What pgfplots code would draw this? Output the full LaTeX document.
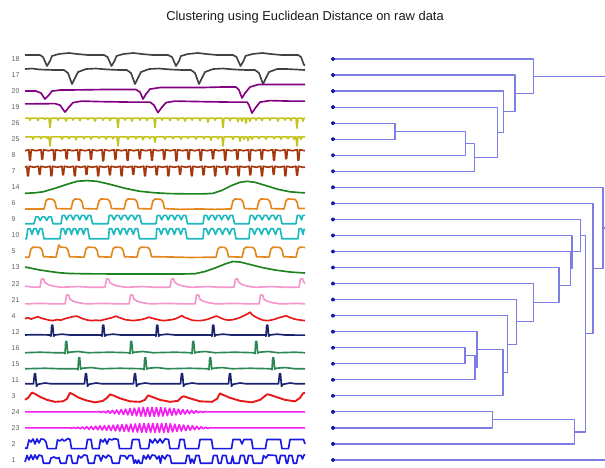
\documentclass[border=0pt]{standalone}
\usepackage{pgfplots}
\pgfplotsset{compat=1.18}
\usepackage{fontspec}
\setmainfont{Liberation Sans}
\definecolor{cgrey}{RGB}{65,65,65}
\definecolor{cpurple}{RGB}{130,0,130}
\definecolor{cyg}{RGB}{195,195,25}
\definecolor{cbrown}{RGB}{165,55,15}
\definecolor{cgreen}{RGB}{30,130,30}
\definecolor{corange}{RGB}{225,135,30}
\definecolor{ccyan}{RGB}{30,185,190}
\definecolor{cpink}{RGB}{245,150,205}
\definecolor{cred}{RGB}{230,25,25}
\definecolor{cnavy}{RGB}{25,35,110}
\definecolor{csea}{RGB}{45,135,85}
\definecolor{cmag}{RGB}{245,30,240}
\definecolor{cblue}{RGB}{25,25,225}
\definecolor{dend}{RGB}{125,125,230}
\definecolor{dotblue}{RGB}{25,25,170}
\definecolor{lab}{RGB}{95,95,95}
\newcommand{\sig}[3]{\addplot[#1] table[row sep=\\, header=false, x index=0, y expr=\thisrowno{1}+#2] {#3\\};}
\newcommand{\lbl}[2]{\node[anchor=west, inner sep=0pt, font=\fontsize{7bp}{8bp}\selectfont, text=lab] at (axis cs:11.5,#2) {#1};}
\begin{document}
\begin{tikzpicture}
\useasboundingbox (0,0) rectangle (605bp,468bp);
\begin{axis}[at={(0,0)}, anchor=south west, scale only axis, width=605bp, height=468bp,
  xmin=0, xmax=605, ymin=0, ymax=468, hide axis,
  every axis plot/.append style={line width=1.65bp, line join=round, mark=none}]
% ---- signals ----
\sig{cgrey}{409}{25 4\\40 4\\43 2\\47 -7\\50 -2\\52 3\\59 5\\69 6\\77 5\\88 4\\104 4\\107.5 2\\111.5 -7\\114.5 -2\\116.5 3\\123.5 5\\133.5 6\\141.5 5\\152.5 4\\168 4\\172 2\\176 -7\\179 -2\\181 3\\188 5\\198 6\\206 5\\217 4\\233 4\\236.5 2\\240.5 -7\\243.5 -2\\245.5 3\\252.5 5\\262.5 6\\270.5 5\\281.5 4\\298 4\\301 2\\304 -6\\305 -6}
\sig{cgrey}{392.96}{25 6\\32 6.5\\40 5.5\\55 5\\64 5\\68 2\\72 -9\\75 -3\\78 3\\86 6\\96 6.5\\108 5.5\\120 5\\127 5\\131 2\\135 -9\\138 -3\\141 3\\149 6\\159 6.5\\171 5.5\\183 5\\191 5\\195 2\\199 -9\\202 -3\\205 3\\213 6\\223 6.5\\235 5.5\\247 5\\255 5\\259 2\\263 -9\\266 -3\\269 3\\277 6\\287 6\\297 5.5\\305 5}
\sig{cpurple}{376.92}{25 0\\36 0\\41 -2\\45 -8\\48 -5\\52 0\\60 1\\80 1.2\\100 1.5\\120 1.5\\136 1.5\\140 -1\\143 -8\\146 -3\\150 2\\160 3.5\\180 3.5\\200 3.5\\220 4\\236 4\\239 1\\242 -7\\245 -2\\250 4\\258 6.5\\275 6.5\\290 6.5\\305 6.5}
\sig{cpurple}{360.88}{25 3.2\\55 3.5\\60 2\\65 -5\\69 0\\73 4.5\\82 6\\100 5.5\\130 5\\150 5\\154 2\\158 -5.5\\162 0\\166 4.5\\175 6\\200 5.5\\230 5\\247 5\\249 2\\252 -6\\256 0\\260 5\\270 6.5\\290 6\\305 6}
\sig{cyg}{344.84}{25 5\\29 5\\30 3\\31 5\\37 5\\38 2.5\\39 5\\44 5\\45 3.5\\46 5\\49 5\\50 -4.5\\51 5\\57 5\\58 3\\59 5\\65 5\\66 2\\67 5\\72 5\\73 3\\74 5\\79 5\\80 2.5\\81 5\\87 5\\88 3.5\\89 5\\94 5\\95 2\\96 5\\102 5\\103 3\\104 5\\109 5\\110 2.5\\111 5\\117 5\\118 -4.5\\119 5\\124 5\\125 3\\126 5\\131 5\\132 2\\133 5\\139 5\\140 3\\141 5\\146 5\\147 2.5\\148 5\\154 5\\155 -4\\156 5\\161 5\\162 3\\163 5\\169 5\\170 2.5\\171 5\\177 5\\178 3\\179 5\\184 5\\185 2\\186 5\\191 5\\192 3\\193 5\\199 5\\200 2.5\\201 5\\207 5\\208 1\\209 5\\214 5\\215 3\\216 5\\222 5\\223 -4.5\\224 5\\229 5\\230 2.5\\231 5\\237 5\\238 1.5\\239 5\\241 5\\242 2\\243 5\\245 5\\246 0\\247 5\\249 5\\250 2\\251 5\\255 5\\256 3\\257 5\\261 5\\262 2.5\\263 5\\269 5\\270 3\\271 5\\277 5\\278 2\\279 5\\284 5\\285 3\\286 5\\290 5\\291 2.5\\292 5\\296 5\\297 -5\\298 5\\302 5\\303 2\\304 5\\305 5}
\sig{cyg}{328.8}{25 2.3\\32 2.3\\33 0\\34 2.3\\40 2.3\\41 0.5\\42 2.3\\46 2.3\\47 1\\48 2.3\\49 2.3\\50 -6.7\\51 2.3\\61 2.3\\62 0\\63 2.3\\68 2.3\\69 0.5\\70 2.3\\75 2.3\\76 -0.5\\77 2.3\\83 2.3\\84 0.5\\85 2.3\\90 2.3\\91 0\\92 2.3\\98 2.3\\99 1\\100 2.3\\105 2.3\\106 0\\107 2.3\\112 2.3\\113 0.5\\114 2.3\\117 2.3\\118 -6.7\\119 2.3\\127 2.3\\128 0\\129 2.3\\135 2.3\\136 0.5\\137 2.3\\142 2.3\\143 -0.5\\144 2.3\\149 2.3\\150 0.5\\151 2.3\\154 2.3\\155 -3\\156 2.3\\164 2.3\\165 0\\166 2.3\\172 2.3\\173 0.5\\174 2.3\\180 2.3\\181 0\\182 2.3\\187 2.3\\188 1\\189 2.3\\195 2.3\\196 0\\197 2.3\\203 2.3\\204 0.5\\205 2.3\\210 2.3\\211 -1\\212 2.3\\217 2.3\\218 0.5\\219 2.3\\222 2.3\\223 -6.7\\224 2.3\\232 2.3\\233 0\\234 2.3\\239 2.3\\240 -2\\241 2.3\\243 2.3\\244 0\\245 2.3\\247 2.3\\248 -1.5\\249 2.3\\251 2.3\\252 0\\253 2.3\\258 2.3\\259 0.5\\260 2.3\\265 2.3\\266 0\\267 2.3\\273 2.3\\274 0.5\\275 2.3\\280 2.3\\281 0\\282 2.3\\287 2.3\\288 0.5\\289 2.3\\293 2.3\\294 0\\295 2.3\\296 2.3\\297 -6.7\\298 2.3\\300 2.3\\301 0\\302 2.3\\305 2.3}
\sig{cbrown}{312.76}{25 4.5\\28.8 5.5\\29.6 -5\\30.4 -5\\31.2 5.5\\36 4.5\\41 5.5\\41.8 -4\\42.6 -4\\43.4 5.5\\48.3 4.5\\53.2 5.5\\54 -5\\54.8 -5\\55.6 5.5\\60.5 4.5\\65.4 5.5\\66.2 -3.5\\67 -3.5\\67.8 5.5\\72.7 4.5\\77.6 5.5\\78.4 -5\\79.2 -5\\80 5.5\\84.9 4.5\\89.8 5.5\\90.6 -4\\91.4 -4\\92.2 5.5\\97.1 4.5\\102 5.5\\102.8 -5.5\\103.6 -5.5\\104.4 5.5\\109.3 4.5\\114.2 5.5\\115 -4\\115.8 -4\\116.6 5.5\\121.5 4.5\\126.4 5.5\\127.2 -5\\128 -5\\128.8 5.5\\133.7 4.5\\138.6 5.5\\139.4 -3.5\\140.2 -3.5\\141 5.5\\145.9 4.5\\150.8 5.5\\151.6 -5\\152.4 -5\\153.2 5.5\\158.1 4.5\\163 5.5\\163.8 -4\\164.6 -4\\165.4 5.5\\170.3 4.5\\175.2 5.5\\176 -5.5\\176.8 -5.5\\177.6 5.5\\182.5 4.5\\187.4 5.5\\188.2 -4\\189 -4\\189.8 5.5\\194.7 4.5\\199.6 5.5\\200.4 -5\\201.2 -5\\202 5.5\\206.9 4.5\\211.8 5.5\\212.6 -3.5\\213.4 -3.5\\214.2 5.5\\219.1 4.5\\224 5.5\\224.8 -5\\225.6 -5\\226.4 5.5\\231.3 4.5\\236.2 5.5\\237 -4\\237.8 -4\\238.6 5.5\\243.5 4.5\\248.4 5.5\\249.2 -5.5\\250 -5.5\\250.8 5.5\\255.7 4.5\\260.6 5.5\\261.4 -4\\262.2 -4\\263 5.5\\267.9 4.5\\272.8 5.5\\273.6 -5\\274.4 -5\\275.2 5.5\\280.1 4.5\\285 5.5\\285.8 -3.5\\286.6 -3.5\\287.4 5.5\\292.3 4.5\\297.2 5.5\\298 -5\\298.8 -5\\299.6 5.5\\305 4.5}
\sig{cbrown}{296.72}{25 4\\26.8 5\\27.6 -4.5\\28.4 -4.5\\29.2 5\\33.9 4\\38.5 5\\39.3 -3\\40.1 -3\\40.9 5\\45.6 4\\50.2 5\\51 -4.5\\51.8 -4.5\\52.6 5\\57.3 4\\61.9 5\\62.7 -3.5\\63.5 -3.5\\64.3 5\\69 4\\73.6 5\\74.4 -4.5\\75.2 -4.5\\76 5\\80.7 4\\85.3 5\\86.1 -3\\86.9 -3\\87.7 5\\92.4 4\\97 5\\97.8 -4.5\\98.6 -4.5\\99.4 5\\104.1 4\\108.7 5\\109.5 -3.5\\110.3 -3.5\\111.1 5\\115.8 4\\120.4 5\\121.2 -4.5\\122 -4.5\\122.8 5\\127.5 4\\132.1 5\\132.9 -3\\133.7 -3\\134.5 5\\139.2 4\\143.8 5\\144.6 -4.5\\145.4 -4.5\\146.2 5\\150.9 4\\155.5 5\\156.3 -3.5\\157.1 -3.5\\157.9 5\\162.6 4\\167.2 5\\168 -4.5\\168.8 -4.5\\169.6 5\\174.3 4\\178.9 5\\179.7 -3\\180.5 -3\\181.3 5\\186 4\\190.6 5\\191.4 -4.5\\192.2 -4.5\\193 5\\197.7 4\\202.3 5\\203.1 -3.5\\203.9 -3.5\\204.7 5\\209.4 4\\214 5\\214.8 -4.5\\215.6 -4.5\\216.4 5\\221.1 4\\225.7 5\\226.5 -3\\227.3 -3\\228.1 5\\232.8 4\\237.4 5\\238.2 -4.5\\239 -4.5\\239.8 5\\244.5 4\\249.1 5\\249.9 -3.5\\250.7 -3.5\\251.5 5\\256.2 4\\260.8 5\\261.6 -4.5\\262.4 -4.5\\263.2 5\\267.9 4\\272.5 5\\273.3 -3\\274.1 -3\\274.9 5\\279.6 4\\284.2 5\\285 -4.5\\285.8 -4.5\\286.6 5\\291.3 4\\295.9 5\\296.7 -4\\297.5 -4\\298.3 5\\303 4\\305 4}
\sig{cgreen}{280.68}{25 -6\\35 -5.5\\43 -4.5\\55 -1\\67 3\\77 6\\87 6.7\\97 6\\110 3\\125 -1\\140 -4\\155 -5.5\\170 -6.3\\190 -6.6\\205 -6.5\\213 -6\\222 -3\\232 2\\240 5\\247 6\\255 5\\265 2\\278 -2\\290 -4.5\\300 -5.3\\305 -5.5}
\sig{corange}{264.64}{25 -5.6\\44 -5.6\\46 2.5\\48 4.4\\53 4\\55 1.5\\56.5 -5.2\\71 -5.6\\73 2.5\\75 4.4\\80 4\\82 1.5\\83.5 -5.2\\97 -5.6\\99 2.5\\101 4.4\\108 4\\110 1.5\\111.5 -5.2\\124 -5.6\\126 2.5\\128 4.4\\135 4\\137 1.5\\138.5 -5.2\\151 -5.6\\153 2.5\\155 4.4\\161 4\\163 1.5\\164.5 -5.2\\180 -6\\200 -5.6\\215 -6\\231 -5.6\\233 2.5\\235 4.4\\241 4\\243 1.5\\244.5 -5.2\\257 -5.6\\259 2.5\\261 4.4\\268 4\\270 1.5\\271.5 -5.2\\284 -5.6\\286 2.5\\288 4.4\\295 4\\297 1.5\\298.5 -5.2\\305 -5}
\sig{ccyan}{248.6}{25 -4.3\\34 -4.3\\35.8 2.5\\38.2 2.5\\40.2 -1\\42.3 2.5\\44.7 2.5\\46.7 -1\\48.8 2.5\\51.2 2.5\\53 -4.3\\61 -4.3\\62.3 4\\64.7 4\\66.7 -0.5\\68.8 4\\71.2 4\\73.2 -0.5\\75.3 4\\77.7 4\\79.7 -0.5\\81.8 4\\84.2 4\\86.2 -0.5\\88.3 4\\90.7 4\\92.5 -4.3\\108 -4.3\\109.3 4\\111.7 4\\114 -0.5\\116.3 4\\118.7 4\\121 -0.5\\123.3 4\\125.7 4\\128 -0.5\\130.3 4\\132.7 4\\135 -0.5\\137.3 4\\139.7 4\\141.5 -4.3\\156 -4.3\\157.3 4\\159.7 4\\161.7 -0.5\\163.8 4\\166.2 4\\168.2 -0.5\\170.3 4\\172.7 4\\174.7 -0.5\\176.8 4\\179.2 4\\181.2 -0.5\\183.3 4\\185.7 4\\187.5 -4.3\\203 -4.3\\204.3 4\\206.7 4\\208.7 -0.5\\210.8 4\\213.2 4\\215.2 -0.5\\217.3 4\\219.7 4\\221.7 -0.5\\223.8 4\\226.2 4\\228.2 -0.5\\230.3 4\\232.7 4\\234.5 -4.3\\249 -4.3\\250.3 4\\252.7 4\\255 -0.5\\257.3 4\\259.7 4\\262 -0.5\\264.3 4\\266.7 4\\269 -0.5\\271.3 4\\273.7 4\\275.8 -0.5\\277.8 4\\280.2 4\\282 -4.3\\296 -4.3\\297.3 4\\299.7 4\\301.5 -0.5\\302.8 4\\305 4}
\sig{ccyan}{232.56}{25 -3.3\\26.5 -3.3\\27.8 6.7\\30.2 6.7\\32 1\\33.8 6.7\\36.2 6.7\\38 1\\39.8 6.7\\42.2 6.7\\44 -3.3\\60 -3.3\\61.3 6.7\\63.7 6.7\\65.5 1\\67.3 6.7\\69.7 6.7\\71.5 1\\73.3 6.7\\75.7 6.7\\77.5 1\\79.3 6.7\\81.7 6.7\\83.5 1\\85.3 6.7\\87.7 6.7\\89.5 -3.3\\108.5 -3.3\\109.3 6.7\\111.7 6.7\\113.8 1\\115.8 6.7\\118.2 6.7\\120.3 1\\122.3 6.7\\124.7 6.7\\126.8 1\\128.8 6.7\\131.2 6.7\\133.3 1\\135.3 6.7\\137.7 6.7\\139.5 -3.3\\156 -3.3\\156.8 6.7\\159.2 6.7\\161.3 1\\163.3 6.7\\165.7 6.7\\167.8 1\\169.8 6.7\\172.2 6.7\\174.3 1\\176.3 6.7\\178.7 6.7\\180.8 1\\182.8 6.7\\185.2 6.7\\187 -3.3\\203 -3.3\\203.8 6.7\\206.2 6.7\\208.5 1\\210.8 6.7\\213.2 6.7\\215.5 1\\217.8 6.7\\220.2 6.7\\222.5 1\\224.8 6.7\\227.2 6.7\\229.5 1\\231.8 6.7\\234.2 6.7\\236 -3.3\\249 -3.3\\249.8 6.7\\252.2 6.7\\254.5 1\\256.8 6.7\\259.2 6.7\\261.5 1\\263.8 6.7\\266.2 6.7\\268.5 1\\270.8 6.7\\273.2 6.7\\275.5 1\\277.8 6.7\\280.2 6.7\\282 -3.3\\298 -3.3\\299 6.7\\301.5 6.7\\303 1\\304 6\\305 6}
\sig{corange}{216.52}{25 -5.7\\29 -5.7\\31 2.5\\33 4.3\\40 4\\42 1.5\\43.5 -5.2\\56 -5.7\\58 3\\59 6.5\\60.5 4.3\\66 4\\68 1.5\\69.5 -5.2\\84 -5.7\\86 2.5\\88 4.3\\95 4\\97 1.5\\98.5 -5.2\\111 -5.7\\113 2.5\\115 4.3\\121 4\\123 1.5\\124.5 -5.2\\137 -5.7\\139 2.5\\141 4.3\\148 4\\150 1.5\\151.5 -5.2\\170 -5.5\\190 -6\\216 -5.7\\218 2.5\\220 4.3\\225 4\\227 1.5\\228.5 -5.2\\242 -5.7\\244 2.5\\246 4.3\\253 4\\255 1.5\\256.5 -5.2\\269 -5.7\\271 2.5\\273 4.3\\280 4\\282 1.5\\283.5 -5.2\\296 -5.7\\298 2.5\\300 4.3\\305 4}
\sig{cgreen}{200.48}{25 0.5\\30 -0.5\\40 -2.5\\50 -4\\60 -5.3\\70 -6\\90 -6.3\\120 -6.5\\150 -6.5\\180 -6.5\\195 -6.2\\205 -4\\215 -0.5\\225 3.5\\233 6\\240 5.5\\250 3\\262 0\\275 -2.5\\290 -4.5\\305 -5.5}
\sig{cpink}{184.44}{25 -2.5\\32 -3.5\\40 -3.7\\41.5 4.5\\43.5 4.7\\45 1\\48 -1\\53 -2.5\\61 -3.7\\78 -3\\90 -3.7\\105 -3.7\\106.5 4.5\\108.5 4.7\\110 1\\113 -1\\118 -2.5\\126 -3.7\\143 -3\\155 -3.7\\170 -3.7\\171.5 4.5\\173.5 4.7\\175 1\\178 -1\\183 -2.5\\191 -3.7\\208 -3\\220 -3.7\\234 -3.7\\235.5 4.5\\237.5 4.7\\239 1\\242 -1\\247 -2.5\\255 -3.7\\272 -3\\285 -3.7\\299 -3.7\\300.5 4.5\\302.5 4.7\\304 1\\305 0}
\sig{cpink}{168.4}{25 -4.3\\40 -3.8\\55 -4.3\\65 -4.3\\66.5 4.5\\68.5 4.7\\70 0.5\\73 -1.5\\78 -3\\86 -4.3\\103 -3.8\\120 -4.3\\129 -4.3\\130.5 4.5\\132.5 4.7\\134 0.5\\137 -1.5\\142 -3\\150 -4.3\\167 -3.8\\185 -4.3\\195 -4.3\\196.5 4.5\\198.5 4.7\\200 0.5\\203 -1.5\\208 -3\\216 -4.3\\233 -3.8\\250 -4.3\\259 -4.3\\260.5 4.5\\262.5 4.7\\264 0.5\\267 -1.5\\272 -3\\280 -4.3\\297 -3.8\\305 -4.3}
\sig{cred}{152.36}{25 -3\\28 -2\\31 -3.5\\35 -2\\38 -1\\41 -2.5\\45 -3.5\\49 -4.5\\53 -5\\57 -4\\61 -4.5\\65 -3\\69 -2\\73 -1\\77 -0.5\\80 -2\\84 -3.5\\88 -4.5\\92 -5\\96 -4.5\\100 -5\\104 -4\\108 -3\\112 -2\\116 -0.5\\118 -1.5\\121 -2.5\\125 -4\\129 -4.5\\133 -5\\137 -4.5\\141 -4\\145 -3\\149 -1.5\\152 -2.5\\156 -3.5\\160 -4.5\\164 -5\\168 -4.5\\172 -4\\176 -3\\180 -1\\182 0\\184 -1.5\\188 -3\\192 -4.5\\196 -5\\200 -5\\204 -4.5\\208 -3.5\\212 -2\\216 -0.5\\218 -1\\221 -2.5\\225 -4\\229 -4.5\\233 -4\\237 -3\\241 -1.5\\245 0.5\\248 2\\250 3.5\\252 1\\255 -1\\259 -3\\263 -4.5\\267 -5\\271 -4.5\\275 -3.5\\279 -2\\283 -1\\286 0\\289 -1.5\\293 -3\\297 -4\\301 -4.5\\305 -5}
\sig{cnavy}{136.32}{25 -3.3\\35 -3\\50 -3.3\\51 -4.5\\51.7 6.5\\52.7 6.5\\53.7 -4.5\\55 -3.3\\62 -2.5\\70 -3.3\\101 -3.3\\102 -4.5\\102.7 6.5\\103.7 6.5\\104.7 -4.5\\106 -3.3\\113 -2.5\\121 -3.3\\155 -3.3\\156 -4.5\\156.7 6.5\\157.7 6.5\\158.7 -4.5\\160 -3.3\\167 -2.5\\175 -3.3\\211 -3.3\\212 -4.5\\212.7 6.5\\213.7 6.5\\214.7 -4.5\\216 -3.3\\223 -2.5\\231 -3.3\\265 -3.3\\266 -4.5\\266.7 6.5\\267.7 6.5\\268.7 -4.5\\270 -3.3\\277 -2.5\\285 -3.3\\305 -3.5}
\sig{csea}{120.28}{25 -5\\40 -4.5\\55 -5\\64 -5\\65 -6\\65.7 6.3\\66.7 6.3\\67.7 -5.5\\69 -4.5\\78 -3.8\\88 -5\\110 -4.5\\129 -5\\130 -6\\130.7 6.3\\131.7 6.3\\132.7 -5.5\\134 -4.5\\143 -3.8\\153 -5\\175 -4.5\\191 -5\\192 -6\\192.7 6.3\\193.7 6.3\\194.7 -5.5\\196 -4.5\\205 -3.8\\215 -5\\235 -4.5\\254 -5\\255 -6\\255.7 6.3\\256.7 6.3\\257.7 -5.5\\259 -4.5\\268 -3.8\\278 -5\\295 -4.5\\305 -5}
\sig{csea}{104.24}{25 -5\\45 -4.5\\60 -5\\77 -5\\78 -6\\78.7 6\\79.7 6\\80.7 -5.5\\82 -4.5\\91 -3.8\\101 -5\\120 -4.5\\143 -5\\144 -6\\144.7 6\\145.7 6\\146.7 -5.5\\148 -4.5\\157 -3.8\\167 -5\\190 -4.5\\208 -5\\209 -6\\209.7 6\\210.7 6\\211.7 -5.5\\213 -4.5\\222 -3.8\\232 -5\\250 -4.5\\271 -5\\272 -6\\272.7 6\\273.7 6\\274.7 -5.5\\276 -4.5\\285 -3.8\\295 -5\\305 -5}
\sig{cnavy}{88.2}{25 -4\\33.5 -4\\34.5 6\\35.5 6\\36.5 -6.5\\38 -4.5\\45 -3.2\\51 -4\\84.5 -4\\85.5 6\\86.5 6\\87.5 -6.5\\89 -4.5\\96 -3.2\\102 -4\\133.5 -4\\134.5 6\\135.5 6\\136.5 -6.5\\138 -4.5\\145 -3.2\\151 -4\\180.5 -4\\181.5 6\\182.5 6\\183.5 -6.5\\185 -4.5\\192 -3.2\\198 -4\\228.5 -4\\229.5 6\\230.5 6\\231.5 -6.5\\233 -4.5\\240 -3.2\\246 -4\\278.5 -4\\279.5 6\\280.5 6\\281.5 -6.5\\283 -4.5\\290 -3.2\\296 -4\\305 -4}
\sig{cred, line width=1.9bp}{72.16}{25 -4\\28 -2\\32 3.3\\35 2\\40 -1\\47 -4\\55 -6\\63 -5.5\\67 -3\\70 3\\73 1.5\\78 -1.5\\86 -4.5\\95 -6.5\\103 -5\\107 -2\\110 1.5\\113 0.5\\120 -2.5\\130 -5.5\\140 -6\\145 -4\\148 0.5\\152 -1\\160 -4\\170 -6\\178 -5\\182 -1\\184 -0.5\\190 -2.5\\200 -5.5\\212 -6\\217 -3\\220 2.5\\223 1\\230 -2\\240 -5\\252 -6.5\\260 -4\\264 -1\\267 1.5\\270 1\\276 -1\\285 -4\\295 -5.5\\300 -2\\303 2.5\\305 3}
\sig{cmag}{56.12}{25 0\\97 0\\99.2 0.2\\101.4 -0.4\\103.6 0.6\\105.8 -0.9\\108 1.1\\110.2 -1.3\\112.4 1.5\\114.6 -1.7\\116.8 1.9\\119 -2.2\\121.2 2.4\\123.4 -2.6\\125.6 2.8\\127.8 -3\\130 3.2\\132.2 -3.4\\134.4 3.7\\136.6 -3.9\\138.8 4.1\\141 -4.3\\143.2 4.5\\145.4 -4.5\\147.6 4.5\\149.8 -4.5\\152 4.5\\154.2 -4.5\\156.4 4.5\\158.6 -4.5\\160.8 4.4\\163 -4.2\\165.2 4\\167.4 -3.8\\169.6 3.6\\171.8 -3.4\\174 3.2\\176.2 -3\\178.4 2.7\\180.6 -2.5\\182.8 2.3\\185 -2.1\\187.2 1.9\\189.4 -1.7\\191.6 1.5\\193.8 -1.3\\196 1.1\\198.2 -0.8\\200.4 0.6\\202.6 -0.4\\204.8 0.2\\207 0\\305 0}
\sig{cmag}{40.08}{25 0\\67 0\\69.2 0.1\\71.4 -0.3\\73.6 0.4\\75.8 -0.5\\78 0.7\\80.2 -0.8\\82.4 0.9\\84.6 -1\\86.8 1.2\\89 -1.3\\91.2 1.4\\93.4 -1.6\\95.6 1.7\\97.8 -1.8\\100 2\\102.2 -2.1\\104.4 2.2\\106.6 -2.3\\108.8 2.5\\111 -2.6\\113.2 2.7\\115.4 -2.9\\117.6 3\\119.8 -3.1\\122 3.3\\124.2 -3.4\\126.4 3.5\\128.6 -3.6\\130.8 3.8\\133 -3.9\\135.2 4\\137.4 -4.2\\139.6 4.3\\141.8 -4.4\\144 4.5\\146.2 -4.5\\148.4 4.5\\150.6 -4.5\\152.8 4.5\\155 -4.5\\157.2 4.5\\159.4 -4.5\\161.6 4.5\\163.8 -4.5\\166 4.5\\168.2 -4.4\\170.4 4.2\\172.6 -4\\174.8 3.7\\177 -3.5\\179.2 3.3\\181.4 -3.1\\183.6 2.9\\185.8 -2.7\\188 2.4\\190.2 -2.2\\192.4 2\\194.6 -1.8\\196.8 1.6\\199 -1.4\\201.2 1.2\\203.4 -0.9\\205.6 0.7\\207.8 -0.5\\210 0.3\\212.2 0\\305 0}
\sig{cblue}{24.04}{25 -4\\27 -4.5\\29 4\\31 2\\33 5\\35 0\\37 5\\39 1\\41 5\\44 4.5\\46 2\\47.5 -4.7\\56 -4.7\\57.5 4\\60 3\\62 5\\64 3\\66 4\\68 5.5\\70 4.5\\71.5 -4.7\\86 -4.7\\87.5 4.5\\91 4.5\\92.5 -4.7\\99 -4.7\\100.5 4.5\\103 2\\105 5\\107 0\\109 5\\112 4\\114 5.3\\118 4.5\\119.5 -4.7\\131 -4.7\\132.5 4.5\\139 4.5\\140.5 -4.7\\148.5 -4.7\\150 4.5\\152.5 1\\155 5\\157.5 1\\160 5\\162.5 1\\165 5\\168.5 4.5\\170 -4.7\\178.5 -4.7\\180 4.5\\184 4.5\\185.5 -4.7\\198.5 -4.7\\200 4.5\\211.5 4.5\\213 -4.7\\231.5 -4.7\\233 4.5\\240 4.5\\242 0\\244 4.5\\251.5 4.5\\253 -4.7\\265.5 -4.7\\267 4.5\\280.5 4.5\\282 -4.7\\288.5 -4.7\\290 4.5\\303.5 4.5\\305 0}
\sig{cblue}{8}{25 -2\\27 4.5\\29 0\\31 5\\33 0.5\\35 5\\37 1\\39 5\\42 4\\43.5 -3.3\\49.5 -3.3\\51 2\\54 3\\57 1.5\\59 2.5\\60.5 -3.3\\66 -3.3\\67.5 4.5\\71 4.5\\72.5 -3.3\\77 -3.3\\78.5 4.5\\81 2\\84 5\\87 4.5\\88.5 -3.3\\94 -3.3\\95.5 4.5\\99 4.5\\101 -1\\103 4.5\\106 2\\108 5\\111 3\\112.5 -3.3\\119 -3.3\\120.5 4.5\\125 4\\127 1\\129 4.5\\132.5 4.5\\134 -3.3\\135.5 0\\137 -3.3\\138.5 0\\140 -3.3\\142 -3.3\\143.5 4.5\\146 1\\148 5\\150 1\\152 5\\155 4.5\\157 1\\159 4\\160.5 -3.3\\162 4.5\\165 1\\167 5\\170 4\\171.5 -3.3\\185.5 -3.3\\187 4.5\\189 4.5\\190.5 -3.3\\192 1\\194 -3.3\\196 4.5\\199 4.5\\200.5 -3.3\\212 -3.3\\213.5 4.5\\217 4.5\\218.5 -3.3\\221 -3.3\\222.5 4.5\\226 4.5\\227.5 -3.3\\231 -3.3\\232.5 4\\234 -3.3\\239 -3.3\\240.5 4.5\\244 4.5\\245.5 -3.3\\247 -3.3\\248.5 4.5\\252 4.5\\253.5 -3.3\\262 -3.3\\263.5 4.5\\266 2\\268 5\\276 4.5\\277.5 -3.3\\279 -3.3\\280.5 4.5\\285 4.5\\286.5 -3.3\\287.5 -3.3\\289 4.5\\292 4.5\\293.5 -3.3\\296.5 -3.3\\298 4.5\\301 4.5\\302.5 1\\304 5\\305 5}
% ---- dendrogram ----
\pgfplotsset{dd/.style={dend, line width=1.2bp}}
\addplot[dd] coordinates {(333,344.84)(395,344.84)(395,328.8)(333,328.8)};
\addplot[dd] coordinates {(395,336.82)(465.7,336.82)(465.7,312.76)(333,312.76)};
\addplot[dd] coordinates {(465.7,324.79)(474.3,324.79)(474.3,296.72)(333,296.72)};
\addplot[dd] coordinates {(333,360.88)(497.3,360.88)(497.3,310.76)(474.3,310.76)};
\addplot[dd] coordinates {(333,376.92)(503.3,376.92)(503.3,335.82)(497.3,335.82)};
\addplot[dd] coordinates {(333,392.96)(515,392.96)(515,356.37)(503.3,356.37)};
\addplot[dd] coordinates {(333,409)(533.3,409)(533.3,374.67)(515,374.67)};
\addplot[dd] coordinates {(533.3,391.83)(612,391.83)};
\addplot[dd] coordinates {(333,120.28)(465,120.28)(465,104.24)(333,104.24)};
\addplot[dd] coordinates {(465,112.26)(475,112.26)(475,88.2)(333,88.2)};
\addplot[dd] coordinates {(333,136.32)(477,136.32)(477,100.23)(475,100.23)};
\addplot[dd] coordinates {(477,118.28)(503,118.28)(503,72.16)(333,72.16)};
\addplot[dd] coordinates {(333,152.36)(507.3,152.36)(507.3,95.22)(503,95.22)};
\addplot[dd] coordinates {(333,168.4)(516.7,168.4)(516.7,123.79)(507.3,123.79)};
\addplot[dd] coordinates {(333,184.44)(533.3,184.44)(533.3,146.1)(516.7,146.1)};
\addplot[dd] coordinates {(333,200.48)(559,200.48)(559,165.27)(533.3,165.27)};
\addplot[dd] coordinates {(333,216.52)(570.5,216.52)(570.5,182.88)(559,182.88)};
\addplot[dd] coordinates {(333,232.56)(572,232.56)(572,199.7)(570.5,199.7)};
\addplot[dd] coordinates {(333,248.6)(580.7,248.6)(580.7,216.13)(572,216.13)};
\addplot[dd] coordinates {(333,56.12)(492.7,56.12)(492.7,40.08)(333,40.08)};
\addplot[dd] coordinates {(492.7,48.1)(574.3,48.1)(574.3,24.04)(333,24.04)};
\addplot[dd] coordinates {(580.7,232.37)(585.7,232.37)(585.7,36.07)(574.3,36.07)};
\addplot[dd] coordinates {(333,264.64)(593,264.64)(593,134.22)(585.7,134.22)};
\addplot[dd] coordinates {(333,280.68)(603,280.68)(603,199.43)(593,199.43)};
\addplot[dd] coordinates {(603,240.06)(612,240.06)};
\addplot[dd] coordinates {(333,8)(612,8)};
\addplot[only marks, mark=*, mark size=1.3bp, color=dotblue, mark options={draw=dotblue, fill=dotblue}] coordinates {(333,409)(333,392.96)(333,376.92)(333,360.88)(333,344.84)(333,328.8)(333,312.76)(333,296.72)(333,280.68)(333,264.64)(333,248.6)(333,232.56)(333,216.52)(333,200.48)(333,184.44)(333,168.4)(333,152.36)(333,136.32)(333,120.28)(333,104.24)(333,88.2)(333,72.16)(333,56.12)(333,40.08)(333,24.04)(333,8)};
% ---- text ----
\node[anchor=base, font=\fontsize{12.9bp}{15bp}\selectfont, text=black!90] at (axis cs:305,447) {Clustering using Euclidean Distance on raw data};
\lbl{18}{409}\lbl{17}{392.96}\lbl{20}{376.92}\lbl{19}{360.88}\lbl{26}{344.84}\lbl{25}{328.8}\lbl{8}{312.76}\lbl{7}{296.72}\lbl{14}{280.68}\lbl{6}{264.64}\lbl{9}{248.6}\lbl{10}{232.56}\lbl{5}{216.52}\lbl{13}{200.48}\lbl{22}{184.44}\lbl{21}{168.4}\lbl{4}{152.36}\lbl{12}{136.32}\lbl{16}{120.28}\lbl{15}{104.24}\lbl{11}{88.2}\lbl{3}{72.16}\lbl{24}{56.12}\lbl{23}{40.08}\lbl{2}{24.04}\lbl{1}{8}
\end{axis}
\end{tikzpicture}
\end{document}
